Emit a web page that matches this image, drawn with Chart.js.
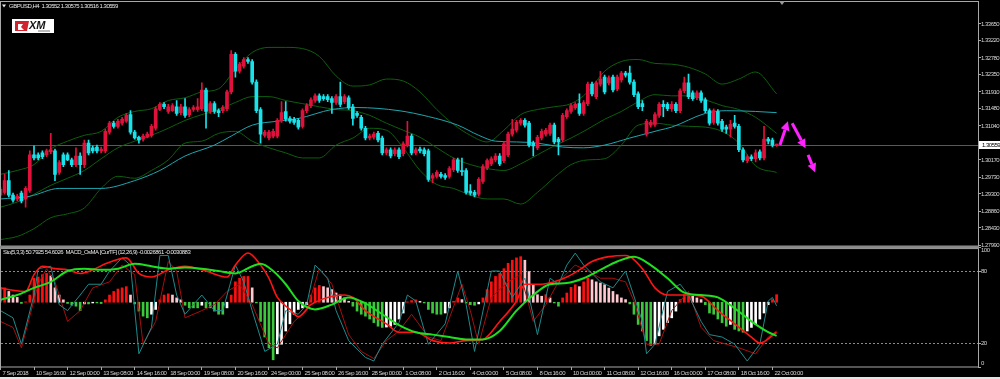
<!DOCTYPE html>
<html>
<head>
<meta charset="utf-8">
<script src="https://cdn.jsdelivr.net/npm/chart.js@4.4.1/dist/chart.umd.min.js"></script>
<style>
  html, body { margin: 0; padding: 0; background: #000; }
  #wrap { position: relative; width: 1000px; height: 379px; background: #000; overflow: hidden; }
  #strip { position: absolute; left: 0; top: 377px; width: 1000px; height: 2px; background: #e4e4e4; }
</style>
</head>
<body>
<div id="wrap">
  <canvas id="chart" width="1000" height="379"></canvas>
  <div id="strip"></div>
</div>
<script>
// GBPUSD H4 candles, one entry per bar (bar 0 = 7 Sep 2018)
const open = [
  1.2927,1.2934,1.2964,1.2927,1.2917,1.2932,1.2917,1.2939,1.3030,1.3030,
  1.3035,1.3030,1.3038,1.3040,1.2985,1.3030,1.3030,1.3017,1.3005,1.3027,
  1.3005,1.3060,1.3048,1.3050,1.3040,1.3040,1.3088,1.3111,1.3103,1.3111,
  1.3116,1.3133,1.3088,1.3075,1.3070,1.3075,1.3080,1.3098,1.3146,1.3159,
  1.3141,1.3143,1.3153,1.3138,1.3153,1.3133,1.3146,1.3146,1.3148,1.3196,
  1.3141,1.3161,1.3143,1.3143,1.3148,1.3191,1.3287,1.3244,1.3257,1.3274,
  1.3269,1.3216,1.3146,1.3080,1.3073,1.3078,1.3078,1.3118,1.3141,1.3123,
  1.3121,1.3118,1.3103,1.3143,1.3156,1.3169,1.3181,1.3179,1.3179,1.3174,
  1.3164,1.3179,1.3166,1.3176,1.3153,1.3136,1.3126,1.3098,1.3073,1.3075,
  1.3085,1.3073,1.3035,1.3043,1.3033,1.3043,1.3033,1.3055,1.3078,1.3035,
  1.3045,1.3043,1.3040,1.2970,1.2975,1.2980,1.2977,1.2975,1.2992,1.3017,
  1.2990,1.2990,1.2937,1.2934,1.2929,1.2962,1.2997,1.3007,1.3017,1.3027,
  1.3015,1.3030,1.3083,1.3093,1.3111,1.3118,1.3111,1.3060,1.3048,1.3073,
  1.3083,1.3085,1.3106,1.3070,1.3068,1.3128,1.3141,1.3151,1.3161,1.3136,
  1.3161,1.3211,1.3179,1.3211,1.3229,1.3214,1.3229,1.3199,1.3222,1.3239,
  1.3239,1.3216,1.3186,1.3161,1.3083,1.3106,1.3108,1.3131,1.3159,1.3159,
  1.3148,1.3159,1.3143,1.3194,1.3214,1.3189,1.3176,1.3189,1.3171,1.3143,
  1.3113,1.3141,1.3116,1.3101,1.3096,1.3111,1.3103,1.3043,1.3015,1.3025,
  1.3020,1.3038,1.3022,1.3070,1.3068,1.30552
];
const high = [
  1.2947,1.2980,1.2990,1.2932,1.2929,1.2937,1.2949,1.3040,1.3053,1.3035,
  1.3040,1.3045,1.3085,1.3045,1.3015,1.3035,1.3035,1.3022,1.3048,1.3035,
  1.3068,1.3068,1.3053,1.3055,1.3050,1.3096,1.3116,1.3116,1.3121,1.3126,
  1.3136,1.3143,1.3093,1.3078,1.3083,1.3088,1.3108,1.3153,1.3164,1.3164,
  1.3159,1.3161,1.3169,1.3159,1.3174,1.3151,1.3156,1.3174,1.3214,1.3201,
  1.3166,1.3166,1.3148,1.3156,1.3196,1.3297,1.3292,1.3267,1.3279,1.3279,
  1.3274,1.3222,1.3151,1.3093,1.3093,1.3096,1.3123,1.3166,1.3166,1.3128,
  1.3126,1.3123,1.3148,1.3161,1.3176,1.3186,1.3186,1.3184,1.3184,1.3179,
  1.3184,1.3216,1.3184,1.3181,1.3159,1.3141,1.3131,1.3103,1.3083,1.3088,
  1.3090,1.3078,1.3048,1.3048,1.3048,1.3048,1.3063,1.3116,1.3083,1.3048,
  1.3050,1.3048,1.3045,1.2982,1.2990,1.2985,1.2982,1.3000,1.3022,1.3022,
  1.3022,1.2995,1.2954,1.2939,1.2972,1.3005,1.3020,1.3025,1.3033,1.3033,
  1.3063,1.3088,1.3121,1.3118,1.3123,1.3123,1.3116,1.3065,1.3080,1.3096,
  1.3098,1.3111,1.3111,1.3075,1.3136,1.3148,1.3161,1.3164,1.3186,1.3169,
  1.3216,1.3216,1.3219,1.3244,1.3234,1.3232,1.3234,1.3234,1.3244,1.3244,
  1.3257,1.3222,1.3191,1.3169,1.3121,1.3118,1.3138,1.3164,1.3169,1.3164,
  1.3166,1.3164,1.3199,1.3229,1.3237,1.3194,1.3194,1.3194,1.3176,1.3148,
  1.3148,1.3146,1.3121,1.3106,1.3118,1.3131,1.3108,1.3048,1.3030,1.3030,
  1.3043,1.3043,1.3103,1.3075,1.3073,1.30575
];
const low = [
  1.2919,1.2929,1.2922,1.2909,1.2912,1.2907,1.2896,1.2934,1.3017,1.3017,
  1.3020,1.3025,1.3033,1.2964,1.2980,1.3000,1.3015,1.3000,1.3000,1.2980,
  1.2997,1.3030,1.3035,1.3035,1.3035,1.3035,1.3083,1.3098,1.3098,1.3106,
  1.3113,1.3083,1.3070,1.3060,1.3065,1.3073,1.3075,1.3093,1.3143,1.3148,
  1.3136,1.3141,1.3131,1.3133,1.3126,1.3128,1.3141,1.3141,1.3143,1.3098,
  1.3136,1.3136,1.3128,1.3138,1.3143,1.3186,1.3229,1.3239,1.3252,1.3264,
  1.3211,1.3138,1.3060,1.3075,1.3068,1.3073,1.3073,1.3113,1.3116,1.3111,
  1.3108,1.3096,1.3098,1.3138,1.3151,1.3164,1.3164,1.3169,1.3166,1.3136,
  1.3159,1.3153,1.3161,1.3146,1.3106,1.3126,1.3093,1.3068,1.3068,1.3070,
  1.3063,1.3030,1.3030,1.3022,1.3027,1.3020,1.3027,1.3050,1.3030,1.3030,
  1.3035,1.3027,1.2962,1.2959,1.2970,1.2970,1.2967,1.2970,1.2987,1.2985,
  1.2977,1.2929,1.2927,1.2922,1.2924,1.2957,1.2992,1.3002,1.3012,1.3002,
  1.3010,1.3025,1.3078,1.3088,1.3106,1.3101,1.3050,1.3027,1.3043,1.3068,
  1.3078,1.3080,1.3058,1.3030,1.3063,1.3123,1.3136,1.3146,1.3131,1.3131,
  1.3156,1.3181,1.3174,1.3206,1.3186,1.3209,1.3191,1.3194,1.3216,1.3229,
  1.3211,1.3179,1.3148,1.3143,1.3078,1.3101,1.3103,1.3126,1.3128,1.3143,
  1.3141,1.3138,1.3138,1.3189,1.3174,1.3169,1.3171,1.3164,1.3138,1.3106,
  1.3108,1.3106,1.3090,1.3085,1.3075,1.3098,1.3038,1.3012,1.3010,1.3015,
  1.3012,1.3017,1.3017,1.3058,1.3050,1.30516
];
const close = [
  1.2942,1.2964,1.2927,1.2914,1.2924,1.2912,1.2944,1.3030,1.3022,1.3022,
  1.3025,1.3040,1.3043,1.2980,1.3010,1.3005,1.3017,1.3005,1.3027,1.3005,
  1.3060,1.3035,1.3040,1.3040,1.3045,1.3090,1.3111,1.3103,1.3116,1.3121,
  1.3131,1.3088,1.3073,1.3068,1.3078,1.3083,1.3103,1.3148,1.3159,1.3153,
  1.3153,1.3156,1.3136,1.3153,1.3131,1.3146,1.3151,1.3153,1.3196,1.3141,
  1.3161,1.3141,1.3138,1.3151,1.3191,1.3287,1.3244,1.3262,1.3274,1.3269,
  1.3216,1.3143,1.3083,1.3088,1.3088,1.3090,1.3118,1.3138,1.3121,1.3116,
  1.3113,1.3101,1.3143,1.3156,1.3171,1.3181,1.3169,1.3174,1.3171,1.3164,
  1.3179,1.3159,1.3179,1.3151,1.3123,1.3131,1.3098,1.3073,1.3078,1.3083,
  1.3068,1.3035,1.3043,1.3027,1.3043,1.3025,1.3058,1.3078,1.3035,1.3043,
  1.3040,1.3033,1.2967,1.2977,1.2985,1.2975,1.2972,1.2995,1.3017,1.2990,
  1.2987,1.2934,1.2932,1.2927,1.2967,1.3000,1.3015,1.3020,1.3027,1.3007,
  1.3058,1.3083,1.3096,1.3113,1.3118,1.3106,1.3055,1.3053,1.3075,1.3090,
  1.3093,1.3106,1.3063,1.3063,1.3131,1.3143,1.3156,1.3159,1.3136,1.3164,
  1.3211,1.3186,1.3214,1.3224,1.3191,1.3227,1.3196,1.3229,1.3239,1.3234,
  1.3216,1.3184,1.3153,1.3153,1.3116,1.3113,1.3133,1.3159,1.3153,1.3148,
  1.3159,1.3143,1.3194,1.3214,1.3179,1.3174,1.3189,1.3169,1.3143,1.3111,
  1.3143,1.3111,1.3096,1.3096,1.3108,1.3103,1.3043,1.3017,1.3025,1.3020,
  1.3035,1.3022,1.3070,1.3065,1.3055,1.30559
];

// time axis: a label every 8 bars
const timeTickIdx = [0,8,16,24,32,40,48,56,64,72,80,88,96,104,112,120,128,136,144,152,160,168,176,184];
const timeLabels = ['7 Sep 2018','10 Sep 16:00','12 Sep 00:00','13 Sep 08:00','14 Sep 16:00','18 Sep 00:00',
  '19 Sep 08:00','20 Sep 16:00','24 Sep 00:00','25 Sep 08:00','26 Sep 16:00','28 Sep 00:00','1 Oct 08:00',
  '2 Oct 16:00','4 Oct 00:00','5 Oct 08:00','8 Oct 16:00','10 Oct 00:00','11 Oct 08:00','12 Oct 16:00',
  '16 Oct 00:00','17 Oct 08:00','18 Oct 16:00','22 Oct 00:00'];
const priceTicks = [1.27990,1.28430,1.28860,1.29300,1.29730,1.30170,1.30600,1.31040,1.31480,1.31910,1.32350,1.32780,1.33220,1.33650];
const oscTicks = [0, 20, 80, 100];
const oscLevels = [20, 80];

// moving average (cyan) and bollinger bands, sampled [bar, price]
const maLine = [[0,1.2917],[7,1.2924],[14,1.2944],[24,1.2944],[32,1.2964],[38,1.2990],[44,1.3027],[51,1.3055],
  [55,1.3078],[60,1.3106],[66,1.3116],[71,1.3123],[79,1.3146],[85,1.3151],[95,1.3143],[102,1.3128],[109,1.3106],
  [114,1.3080],[118,1.3065],[123,1.3063],[128,1.3060],[134,1.3050],[139,1.3048],[144,1.3055],[150,1.3073],
  [157,1.3093],[160,1.3101],[168,1.3136],[173,1.3143],[180,1.3141],[185,1.3138]];
const bandIdx = [0,4,8,12,16,20,24,28,32,36,40,44,48,52,56,60,64,68,72,76,80,84,88,92,96,100,104,108,112,116,
  120,124,128,132,136,140,144,148,152,156,160,164,168,172,176,180,185];
const bandUpper = [1.2980,1.2990,1.3005,1.3045,1.3065,1.3080,1.3090,1.3126,1.3141,1.3148,1.3169,1.3176,1.3191,
  1.3199,1.3249,1.3292,1.3305,1.3305,1.3302,1.3282,1.3232,1.3206,1.3209,1.3224,1.3219,1.3191,1.3146,1.3108,
  1.3080,1.3063,1.3093,1.3133,1.3146,1.3153,1.3161,1.3191,1.3244,1.3269,1.3274,1.3264,1.3262,1.3254,1.3237,
  1.3211,1.3224,1.3242,1.3186];
const bandMiddle = [1.2896,1.2909,1.2929,1.2952,1.2970,1.2990,1.3020,1.3048,1.3065,1.3080,1.3098,1.3118,1.3133,
  1.3146,1.3164,1.3179,1.3179,1.3169,1.3161,1.3153,1.3146,1.3143,1.3131,1.3111,1.3093,1.3075,1.3048,1.3022,
  1.3005,1.2995,1.2990,1.3007,1.3030,1.3053,1.3073,1.3096,1.3121,1.3141,1.3166,1.3184,1.3181,1.3181,1.3171,
  1.3156,1.3146,1.3126,1.3085];
const bandLower = [1.2813,1.2821,1.2841,1.2869,1.2879,1.2894,1.2944,1.2975,1.2970,1.2990,1.3017,1.3060,1.3065,
  1.3085,1.3090,1.3065,1.3048,1.3035,1.3022,1.3022,1.3055,1.3073,1.3098,1.3093,1.3048,1.2990,1.2954,1.2944,
  1.2927,1.2917,1.2917,1.2904,1.2934,1.2972,1.3005,1.3017,1.3020,1.3055,1.3106,1.3111,1.3106,1.3103,1.3101,
  1.3090,1.3060,1.3002,1.2985];

// forecast arrows [fromBar, fromPrice, toBar, toPrice]
const arrowPaths = [[185.8,1.3055,187.7,1.3116],[188.7,1.3111,191.9,1.3047],[192.5,1.3030,194.2,1.2985]];

// lower window, in window units (0..100)
const osmaZero = 54;
const osma = [
  12,12,9,6,4,-1,0.3,6,20,21, 23,24,22,12,6,2,-1,-2.5,-3.3,-7,
  -1.4,-1.4,-0.6,-0.6,-1.1,2,6,9,11,12, 13,6,-1.4,-7.4,-11.6,-13,-10,-6,2,6,
  7,6,3.6,2,-2.5,-4.7,-4.7,-4.7,-2.5,-4.7, -4.7,-7.4,-10,-10,-4.7,6,17,20,21.5,21.5,
  12,-0.6,-16,-29,-38,-48,-43,-35,-24,-18, -10,-6,-4.7,-2,6,12,14,13,12,10.5,
  7.7,6,3.6,0.8,-3.3,-7.4,-10,-11.6,-14,-17, -20,-21,-20.7,-20,-18.5,-14,-9,0.3,1.4,2,
  0.8,-0.6,-6,-9,-10,-10,-9,-4.7,0.8,3.6, 2.2,-0.6,-2,-2.5,-1.4,3.6,10.5,17,21.5,24,
  28,32.5,35,37,38,35,25.6,14.6,6.3,5, 6.3,3.6,-0.6,-3.3,3.6,7.7,12.4,14.6,13,17,
  20,18.7,17,16,14.6,11.8,9,6.3,3.6,2.2, -1.4,-10,-18.5,-24,-32,-36,-35,-28,-22.6,-17,
  -13,-7.4,2.2,6.3,6.3,5,3.6,2.2,-2,-9, -10,-14,-17,-20,-18.5,-22.6,-24,-25,-24,-21,
  -18.5,-14,-9,-2,2.2,6.3
];
const greenLine = [[0,56],[4,60],[8,66],[12,71],[16,80],[20,82],[24,81],[28,82],[32,86],[36,84],[40,82],[44,83],
  [48,82],[52,80],[56,78],[60,84],[62,86],[65,80],[68,69],[71,55],[75,48],[79,52],[83,58],[87,53],[91,44],[95,35],
  [99,29],[103,27],[107,25],[111,23],[115,23],[119,30],[123,47],[127,60],[131,69],[135,70],[139,74],[143,81],
  [147,88],[151,92],[155,85],[159,74],[163,62],[167,60],[171,58],[175,49],[179,38],[183,29],[185,26]];
const redLine = [[0,66],[3,64],[6,63],[8,77],[10,84],[13,82],[16,81],[19,78],[22,81],[25,86],[30,91],[33,78],
  [36,75],[40,81],[44,84],[49,80],[54,75],[56,85],[59,95],[62,85],[64,74],[66,58],[69,48],[71,42],[74,52],[78,58],
  [82,60],[84,58],[87,47],[92,36],[95,29],[99,29],[103,22],[107,20],[111,22],[115,23],[119,38],[123,55],[125,69],
  [129,69],[132,71],[135,75],[138,81],[141,88],[145,92],[149,93],[153,82],[156,66],[159,60],[163,60],[167,59],
  [171,47],[175,36],[179,25],[181,20],[185,29]];
const stochMain = [[0,47],[3,41],[5,19],[8,60],[9,82],[12,84],[14,52],[16,47],[19,60],[21,69],[24,69],[26,80],
  [29,91],[31,85],[33,11],[36,33],[38,93],[40,93],[42,60],[44,44],[48,60],[51,47],[53,47],[56,85],[58,71],[60,47],
  [63,13],[66,19],[68,47],[71,44],[73,52],[75,85],[78,74],[80,47],[83,22],[87,8],[89,5],[91,19],[95,37],[97,60],
  [99,55],[102,19],[106,36],[109,80],[111,52],[113,13],[117,80],[119,80],[122,58],[125,74],[128,27],[131,74],
  [133,69],[135,85],[137,95],[139,85],[143,71],[146,66],[149,80],[153,38],[154,11],[156,19],[159,63],[162,69],
  [164,60],[167,38],[169,27],[172,25],[175,19],[178,5],[181,19],[183,55],[184,58],[185,51]];
const stochSignal = [[0,38],[3,33],[5,16],[9,69],[11,82],[13,71],[16,38],[19,47],[22,66],[26,71],[29,85],[32,77],
  [34,19],[37,38],[40,88],[42,80],[44,41],[48,47],[51,52],[54,63],[57,69],[60,52],[64,19],[66,16],[70,38],[73,47],
  [76,82],[79,69],[83,27],[86,13],[89,7],[92,22],[95,30],[98,44],[102,25],[105,22],[110,69],[112,47],[114,19],
  [117,58],[121,71],[124,77],[127,38],[130,52],[133,71],[137,85],[140,80],[143,74],[146,74],[149,71],[151,55],
  [154,19],[157,19],[160,47],[164,63],[167,33],[170,22],[173,19],[176,16],[180,11],[183,25],[185,30]];

const UP = '#e0123c';
const DOWN = '#18e2ea';
const FONT = '"Liberation Sans", Arial, sans-serif';
const AXIS_TXT = '#d4d4d4';
const FRAME = '#a8a8a8';

// bar 0 sits at x=0.44, 4.195 px per bar
const X_MIN = 0.134, X_MAX = 233.0;
const Y_MIN = 1.27939, Y_MAX = 1.34079;

const bars = open.map((_, i) => i);
const candleColor = bars.map(i => close[i] >= open[i] ? UP : DOWN);
const osmaColor = osma.map((h, i) => {
  const prev = i > 0 ? osma[i - 1] : h;
  if (h >= 0) return h >= prev ? '#ff1010' : '#ffc8d0';
  return h <= prev ? '#3cc83c' : '#ffffff';
});
const pts = arr => arr.map(p => ({ x: p[0], y: p[1] }));
const bandPts = arr => arr.map((v, k) => ({ x: bandIdx[k], y: v }));

const lineBase = { type: 'line', pointRadius: 0, fill: false, borderWidth: 1 };

const chrome = {
  id: 'chrome',
  beforeDraw(chart) {
    // small terminal font: squeeze the glyphs a little
    chart.ctx.letterSpacing = '-0.5px';
  },
  beforeDatasetsDraw(chart) {
    const { ctx, chartArea: a, scales: { y, y2 } } = chart;
    ctx.save();
    // bid line
    const py = Math.round(y.getPixelForValue(close[close.length - 1])) + 0.5;
    ctx.strokeStyle = '#595959';
    ctx.lineWidth = 1;
    ctx.beginPath(); ctx.moveTo(a.left, py); ctx.lineTo(a.right, py); ctx.stroke();
    // stochastic levels
    ctx.setLineDash([2, 2]);
    ctx.strokeStyle = '#8a8a8a';
    oscLevels.forEach(v => {
      const ly = Math.round(y2.getPixelForValue(v)) + 0.5;
      ctx.beginPath(); ctx.moveTo(a.left, ly); ctx.lineTo(a.right, ly); ctx.stroke();
    });
    ctx.restore();
  },
  afterDatasetsDraw(chart) {
    const { ctx, scales: { x, y } } = chart;
    ctx.save();
    ctx.strokeStyle = '#ff22ff';
    ctx.fillStyle = '#ff22ff';
    ctx.lineWidth = 3;
    arrowPaths.forEach(([i0, p0, i1, p1]) => {
      const x0 = x.getPixelForValue(i0), y0 = y.getPixelForValue(p0);
      const x1 = x.getPixelForValue(i1), y1 = y.getPixelForValue(p1);
      const ang = Math.atan2(y1 - y0, x1 - x0);
      const hl = 9, hw = 4.5;
      const bx = x1 - hl * Math.cos(ang), by = y1 - hl * Math.sin(ang);
      ctx.beginPath(); ctx.moveTo(x0, y0); ctx.lineTo(bx, by); ctx.stroke();
      ctx.beginPath();
      ctx.moveTo(x1, y1);
      ctx.lineTo(bx + hw * Math.sin(ang), by - hw * Math.cos(ang));
      ctx.lineTo(bx - hw * Math.sin(ang), by + hw * Math.cos(ang));
      ctx.closePath(); ctx.fill();
    });
    ctx.restore();
  },
  afterDraw(chart) {
    const { ctx, chartArea: a, scales: { y } } = chart;
    ctx.save();
    // window frames
    ctx.strokeStyle = FRAME;
    ctx.lineWidth = 1;
    const split = y.bottom;
    ctx.strokeRect(0.5, 1.5, a.right, split - 2.5);
    ctx.strokeRect(0.5, split + 1.5, a.right, a.bottom - split - 1.5);
    ctx.fillStyle = '#8c8c8c';
    ctx.fillRect(0, split - 1, a.right + 1, 2.5);

    // bid label on the price axis
    const last = close[close.length - 1];
    const py = Math.round(y.getPixelForValue(last));
    ctx.fillStyle = '#ffffff';
    ctx.fillRect(a.right + 1, py - 4, 1000 - a.right - 1, 8);
    ctx.fillStyle = '#000';
    ctx.font = '6px ' + FONT;
    ctx.textBaseline = 'middle';
    ctx.fillText(last.toFixed(5), a.right + 4, py + 0.5);

    // window captions
    ctx.fillStyle = '#e8e8e8';
    ctx.fillText('GBPUSD,H4  ' + open[open.length - 1].toFixed(5) + ' ' + high[high.length - 1].toFixed(5) + ' ' +
      low[low.length - 1].toFixed(5) + ' ' + last.toFixed(5), 9, 6.5);
    ctx.beginPath(); ctx.moveTo(2, 4.5); ctx.lineTo(6, 4.5); ctx.lineTo(4, 7.5); ctx.closePath(); ctx.fill();
    ctx.fillText('Sto(5,3,3) 50.7925 54.6026  MACD_OsMA [CurTF] (12,26,9) -0.0026861 -0.0030883', 3, split + 5.5);

    // chart shift marker
    ctx.fillStyle = '#9a9a9a';
    ctx.beginPath(); ctx.moveTo(779, 1); ctx.lineTo(785, 1); ctx.lineTo(782, 5); ctx.closePath(); ctx.fill();

    // XM logo
    ctx.letterSpacing = '0px';
    ctx.fillStyle = '#ffffff';
    ctx.fillRect(12, 19, 42, 14);
    ctx.fillStyle = '#d3222c';
    ctx.beginPath();
    ctx.moveTo(15, 21); ctx.lineTo(29, 21); ctx.lineTo(27, 31); ctx.lineTo(15, 31); ctx.closePath(); ctx.fill();
    ctx.fillStyle = '#ffffff';
    ctx.beginPath();
    ctx.moveTo(18, 24); ctx.lineTo(23, 24); ctx.lineTo(21, 27); ctx.lineTo(24, 30); ctx.lineTo(18, 30); ctx.closePath(); ctx.fill();
    ctx.fillStyle = '#151515';
    ctx.font = 'italic bold 11px "Liberation Sans", sans-serif';
    ctx.textBaseline = 'alphabetic';
    ctx.fillText('XM', 29, 29);
    ctx.fillStyle = '#777';
    ctx.fillRect(38, 30.5, 12, 1);
    ctx.restore();
  }
};

new Chart(document.getElementById('chart'), {
  data: {
    datasets: [
      { type: 'bar', label: 'body', data: bars.map(i => ({ x: i, y: [open[i], close[i]] })),
        backgroundColor: candleColor, barThickness: 3, minBarLength: 1, grouped: false, yAxisID: 'y', order: 0 },
      { type: 'bar', label: 'wick', data: bars.map(i => ({ x: i, y: [low[i], high[i]] })),
        backgroundColor: candleColor, barThickness: 1, grouped: false, yAxisID: 'y', order: 1 },
      { ...lineBase, label: 'MA', data: pts(maLine), borderColor: '#1ea6ae', cubicInterpolationMode: 'monotone', yAxisID: 'y', order: 2 },
      { ...lineBase, label: 'BB upper', data: bandPts(bandUpper), borderColor: '#0e5e0e', cubicInterpolationMode: 'monotone', yAxisID: 'y', order: 3 },
      { ...lineBase, label: 'BB middle', data: bandPts(bandMiddle), borderColor: '#0e5e0e', cubicInterpolationMode: 'monotone', yAxisID: 'y', order: 3 },
      { ...lineBase, label: 'BB lower', data: bandPts(bandLower), borderColor: '#0e5e0e', cubicInterpolationMode: 'monotone', yAxisID: 'y', order: 3 },
      { ...lineBase, label: 'MACD green', data: pts(greenLine), borderColor: '#1fe01f', borderWidth: 2, cubicInterpolationMode: 'monotone', yAxisID: 'y2', order: 4 },
      { ...lineBase, label: 'MACD red', data: pts(redLine), borderColor: '#ff1414', borderWidth: 1.6, cubicInterpolationMode: 'monotone', yAxisID: 'y2', order: 5 },
      { ...lineBase, label: 'Sto main', data: pts(stochMain), borderColor: '#1f8a8c', yAxisID: 'y2', order: 6 },
      { ...lineBase, label: 'Sto signal', data: pts(stochSignal), borderColor: '#a80e0e', yAxisID: 'y2', order: 7 },
      { type: 'bar', label: 'OsMA', data: osma.map((h, i) => ({ x: i, y: [osmaZero, osmaZero + h] })),
        backgroundColor: osmaColor, barThickness: 2, grouped: false, yAxisID: 'y2', order: 8 }
    ]
  },
  options: {
    responsive: false,
    animation: false,
    devicePixelRatio: 1,
    events: [],
    layout: { padding: { left: 1, right: 0, top: 2, bottom: 0 } },
    plugins: { legend: { display: false }, tooltip: { enabled: false } },
    scales: {
      x: {
        type: 'linear', min: X_MIN, max: X_MAX, offset: false,
        afterBuildTicks: s => { s.ticks = timeTickIdx.map(v => ({ value: v })); },
        afterFit: s => { s.height = 12; },
        grid: { drawOnChartArea: false, drawTicks: true, tickLength: 3, color: FRAME, offset: false },
        border: { display: false },
        ticks: { autoSkip: false, maxRotation: 0, align: 'start', labelOffset: 2, padding: 0,
          color: AXIS_TXT, font: { size: 6, family: FONT }, callback: (v, i) => timeLabels[i] }
      },
      y: {
        position: 'right', stack: 'win', stackWeight: 2, min: Y_MIN, max: Y_MAX, offset: false,
        afterBuildTicks: s => { s.ticks = priceTicks.map(v => ({ value: v })); },
        afterFit: s => { s.width = 22; },
        grid: { drawOnChartArea: false, drawTicks: true, tickLength: 3, color: FRAME },
        border: { display: false },
        ticks: { autoSkip: false, padding: 0, color: AXIS_TXT, font: { size: 6, family: FONT }, callback: v => v.toFixed(5) }
      },
      y2: {
        position: 'right', stack: 'win', stackWeight: 1, min: 0, max: 100, offset: false,
        afterBuildTicks: s => { s.ticks = oscTicks.map(v => ({ value: v })); },
        afterFit: s => { s.width = 22; },
        grid: { drawOnChartArea: false, drawTicks: true, tickLength: 3, color: FRAME },
        border: { display: false },
        ticks: { autoSkip: false, padding: 0, color: AXIS_TXT, font: { size: 6, family: FONT },
          callback: v => v === 100 ? ['', '100'] : v === 0 ? ['0', ''] : String(v) }
      }
    }
  },
  plugins: [chrome]
});
</script>
</body>
</html>
